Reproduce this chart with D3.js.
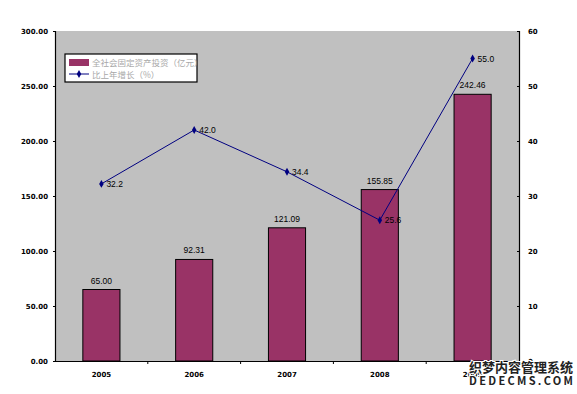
<!DOCTYPE html>
<html>
<head>
<meta charset="utf-8">
<script src="https://cdn.jsdelivr.net/npm/d3@7"></script>
<style>
  body { margin: 0; background: #fff; }
  svg { display: block; }
</style>
</head>
<body>
<svg width="577" height="394"></svg>
<script>
// data
let years = ["2005", "2006", "2007", "2008", "2009"];
let invest = [65.00, 92.31, 121.09, 155.85, 242.46];
let investLabels = ["65.00", "92.31", "121.09", "155.85", "242.46"];
let growth = [32.2, 42.0, 34.4, 25.6, 55.0];
let leftTicks = [0, 50, 100, 150, 200, 250, 300];
let rightTicks = [0, 10, 20, 30, 40, 50, 60];
let legendNames = ["全社会固定资产投资（亿元）", "比上年增长（%）"];

var svg = d3.select("svg");

let plotL = 55, plotR = 519, plotT = 31, plotB = 361;

var x = d3.scaleBand()
  .domain(years)
  .range([plotL, plotR])
  .paddingInner(0.6)
  .paddingOuter(0.3);

var yL = d3.scaleLinear().domain([0, 300]).range([plotB, plotT]);
var yR = d3.scaleLinear().domain([0, 60]).range([plotB, plotT]);

// plot area
svg.append("rect")
  .attr("x", plotL).attr("y", plotT)
  .attr("width", plotR - plotL).attr("height", plotB - plotT)
  .attr("fill", "#c0c0c0");

// bars
svg.selectAll(".bar")
  .data(invest)
  .enter()
  .append("rect")
  .attr("class", "bar")
  .attr("x", (d, i) => x(years[i]))
  .attr("y", d => yL(d))
  .attr("width", x.bandwidth())
  .attr("height", d => plotB - yL(d))
  .attr("fill", "#993366")
  .attr("stroke", "#000")
  .attr("stroke-width", 1);

svg.selectAll(".barlab")
  .data(invest)
  .enter()
  .append("text")
  .attr("x", (d, i) => x(years[i]) + x.bandwidth() / 2)
  .attr("y", d => yL(d) - 6)
  .attr("text-anchor", "middle")
  .attr("font-family", "Liberation Sans, Arial, sans-serif")
  .attr("font-size", "8.5px")
  .attr("fill", "#000")
  .text((d, i) => investLabels[i]);

// axes
var fmt = d3.format(".2f");
var axL = svg.append("g")
  .attr("transform", "translate(" + plotL + ",0)")
  .call(d3.axisLeft(yL).tickValues(leftTicks).tickFormat(fmt).tickSize(2).tickPadding(5));

var axR = svg.append("g")
  .attr("transform", "translate(" + plotR + ",0)")
  .call(d3.axisRight(yR).tickValues(rightTicks).tickSize(-2).tickPadding(9));

var axB = svg.append("g")
  .attr("transform", "translate(0," + plotB + ")")
  .call(d3.axisBottom(x).tickSize(0).tickPadding(11));

// ticks between categories on the bottom axis
let step = x.step();
let bounds = d3.range(1, years.length).map(i => plotL + i * step);
svg.selectAll(".btick")
  .data(bounds)
  .enter()
  .append("line")
  .attr("x1", d => d).attr("x2", d => d)
  .attr("y1", plotB).attr("y2", plotB + 3)
  .attr("stroke", "#000");

[axL, axR, axB].forEach(function(a) {
  a.select(".domain").attr("stroke", "#000").attr("stroke-width", 1.2);
  a.selectAll("text")
    .attr("font-family", "DejaVu Sans, sans-serif")
    .attr("font-size", "7px")
    .attr("font-weight", "bold")
    .attr("fill", "#000");
});
axB.select(".domain").attr("d", "M" + plotL + ",0.5H" + plotR);

// line
var line = d3.line()
  .x((d, i) => x(years[i]) + x.bandwidth() / 2)
  .y(d => yR(d));

svg.append("path")
  .datum(growth)
  .attr("d", line)
  .attr("fill", "none")
  .attr("stroke", "#000080")
  .attr("stroke-width", 1);

var sym = d3.symbol().type(d3.symbolDiamond).size(18);
svg.selectAll(".pt")
  .data(growth)
  .enter()
  .append("path")
  .attr("d", sym)
  .attr("transform", (d, i) => "translate(" + (x(years[i]) + x.bandwidth() / 2) + "," + yR(d) + ")")
  .attr("fill", "#000080");

svg.selectAll(".ptlab")
  .data(growth)
  .enter()
  .append("text")
  .attr("x", (d, i) => x(years[i]) + x.bandwidth() / 2 + 5)
  .attr("y", d => yR(d) + 3)
  .attr("font-family", "Liberation Sans, Arial, sans-serif")
  .attr("font-size", "8.5px")
  .attr("fill", "#000")
  .text(d => d.toFixed(1));

// legend
let lg = svg.append("g").attr("transform", "translate(65,54)");
lg.append("rect")
  .attr("width", 132).attr("height", 28)
  .attr("fill", "#fff")
  .attr("stroke", "#000")
  .attr("stroke-width", 1.2);
lg.append("rect")
  .attr("x", 4).attr("y", 5)
  .attr("width", 20).attr("height", 7)
  .attr("fill", "#993366");
lg.append("line")
  .attr("x1", 4).attr("x2", 24)
  .attr("y1", 20).attr("y2", 20)
  .attr("stroke", "#000080");
lg.append("path")
  .attr("d", sym)
  .attr("transform", "translate(14,20)")
  .attr("fill", "#000080");
lg.selectAll(".lt")
  .data(legendNames)
  .enter()
  .append("text")
  .attr("x", 27)
  .attr("y", (d, i) => 12 + i * 12)
  .attr("font-family", "Noto Sans CJK SC, sans-serif")
  .attr("font-size", "8.5px")
  .attr("fill", "#a8a8a8")
  .text(d => d);

// watermark
let wm = svg.append("g").attr("font-family", "Noto Sans CJK SC, sans-serif")
  .attr("font-weight", "bold").attr("fill", "#222")
  .attr("stroke", "#fff").attr("stroke-width", 2).attr("paint-order", "stroke");
wm.append("text").attr("x", 469).attr("y", 372).attr("font-size", "13px")
  .attr("textLength", 104).attr("lengthAdjust", "spacingAndGlyphs").text("织梦内容管理系统");
wm.append("text").attr("x", 469).attr("y", 385).attr("font-size", "11px")
  .attr("textLength", 104).attr("lengthAdjust", "spacing").text("DEDECMS.COM");
</script>
</body>
</html>
